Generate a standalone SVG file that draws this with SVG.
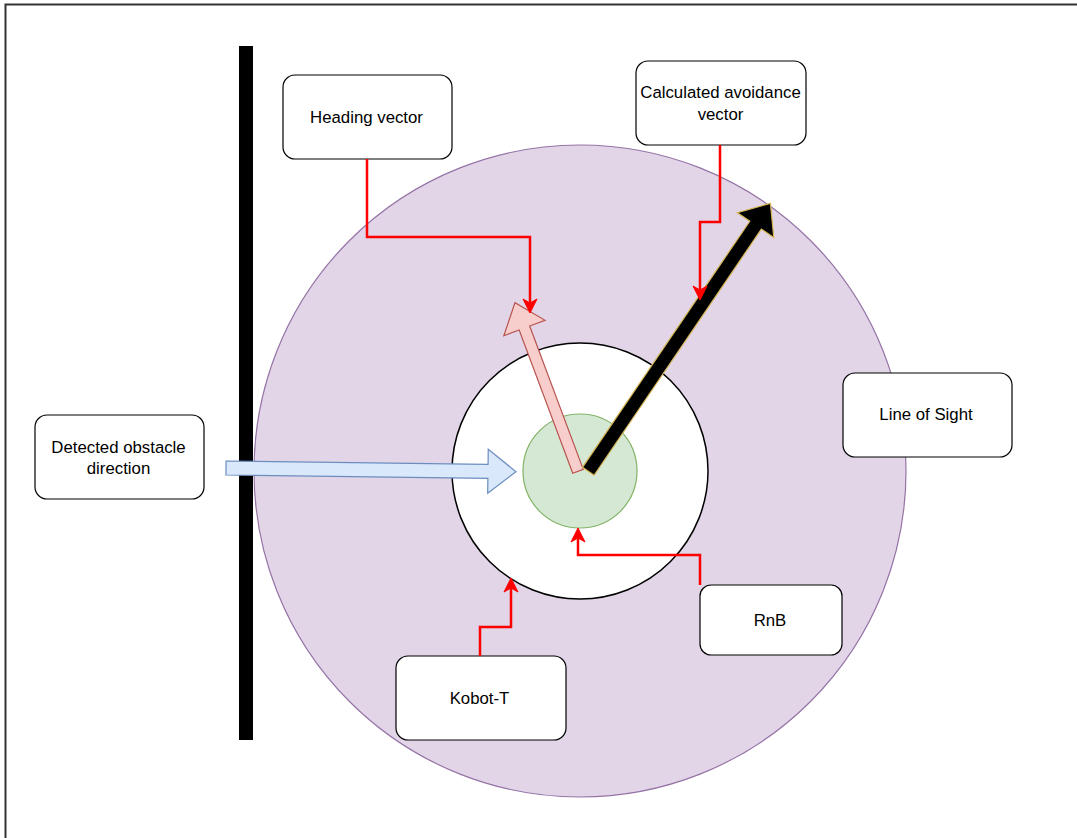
<svg xmlns="http://www.w3.org/2000/svg" width="1077" height="838" viewBox="0 0 1077 838">
  <style>
    .box { fill: #ffffff; stroke: #000000; stroke-width: 1.2; }
    .label { font-family: "Liberation Sans", Arial, Helvetica, sans-serif; font-size: 16.8px; fill: #000000; text-anchor: middle; }
    .link { fill: none; stroke: #ff0000; stroke-width: 2.5; }
  </style>
  <defs>
    <marker id="redHead" markerUnits="userSpaceOnUse" viewBox="-15 -8 17 16" markerWidth="17" markerHeight="16" refX="-4" refY="0" orient="auto">
      <path d="M0,0 L-14,-7 L-10,0 L-14,7 Z" fill="#ff0000" stroke="#ff0000" stroke-width="1"/>
    </marker>
  </defs>

  <rect width="1077" height="838" fill="#ffffff"/>
  <!-- page frame -->
  <rect x="5.5" y="4.5" width="1080" height="850" fill="none" stroke="#333333" stroke-width="2"/>

  <!-- obstacle wall -->
  <rect id="wall" x="239" y="46" width="14" height="694" fill="#000000"/>

  <!-- sensing ranges -->
  <g id="line-of-sight-range">
    <circle cx="580" cy="471" r="326" fill="#e1d5e7" stroke="#9673a6" stroke-width="1.2"/>
  </g>
  <g id="kobot-range">
    <circle cx="580" cy="471" r="128" fill="#ffffff" stroke="#000000" stroke-width="1.5"/>
  </g>
  <g id="rnb-range">
    <circle cx="580" cy="471" r="57" fill="#d5e8d4" stroke="#82b366" stroke-width="1.2"/>
  </g>

  <!-- vectors -->
  <g id="obstacle-vector">
    <polygon transform="translate(226,468) rotate(0.73)" points="0,-7 262,-7 262,-22 290,0 262,22 262,7 0,7" fill="#dae8fc" stroke="#6c8ebf" stroke-width="1.2"/>
  </g>
  <g id="heading-vector">
    <polygon transform="translate(578,471.3) rotate(-110.5)" points="0,-5.6 153,-5.6 153,-22 180,0 153,22 153,5.6 0,5.6" fill="#f8cecc" stroke="#b85450" stroke-width="1.2"/>
  </g>
  <g id="avoidance-vector">
    <polygon transform="translate(588.3,471.3) rotate(-55.8)" points="0,-7 297.6,-7 297.6,-22 324,0 297.6,22 297.6,7 0,7" fill="#000000" stroke="#d6b656" stroke-width="1.2"/>
  </g>

  <!-- labels -->
  <g id="heading-label">
    <rect class="box" x="283" y="75" width="169" height="84" rx="12"/>
    <text class="label" x="366.5" y="123">Heading vector</text>
  </g>
  <g id="avoidance-label">
    <rect class="box" x="636" y="61" width="170" height="84" rx="12"/>
    <text class="label" x="720.5" y="98">Calculated avoidance</text>
    <text class="label" x="720.5" y="119.5">vector</text>
  </g>
  <g id="line-of-sight-label">
    <rect class="box" x="843" y="373" width="169" height="84" rx="12"/>
    <text class="label" x="926" y="420">Line of Sight</text>
  </g>
  <g id="obstacle-label">
    <rect class="box" x="35" y="415" width="169" height="84" rx="12"/>
    <text class="label" x="118.5" y="452.5">Detected obstacle</text>
    <text class="label" x="118.5" y="474">direction</text>
  </g>
  <g id="rnb-label">
    <rect class="box" x="700" y="585" width="142" height="70" rx="11"/>
    <text class="label" x="770" y="626">RnB</text>
  </g>
  <g id="kobot-label">
    <rect class="box" x="396" y="656" width="170" height="84" rx="12"/>
    <text class="label" x="479.5" y="704">Kobot-T</text>
  </g>

  <!-- connectors -->
  <g id="connectors">
    <path class="link" d="M367,159 V237 H530 V309" marker-end="url(#redHead)"/>
    <path class="link" d="M720,145 V222 H700 V296" marker-end="url(#redHead)"/>
    <path class="link" d="M700,585 V555 H578 V532" marker-end="url(#redHead)"/>
    <path class="link" d="M480,656 V627 H511 V582" marker-end="url(#redHead)"/>
  </g>
</svg>
